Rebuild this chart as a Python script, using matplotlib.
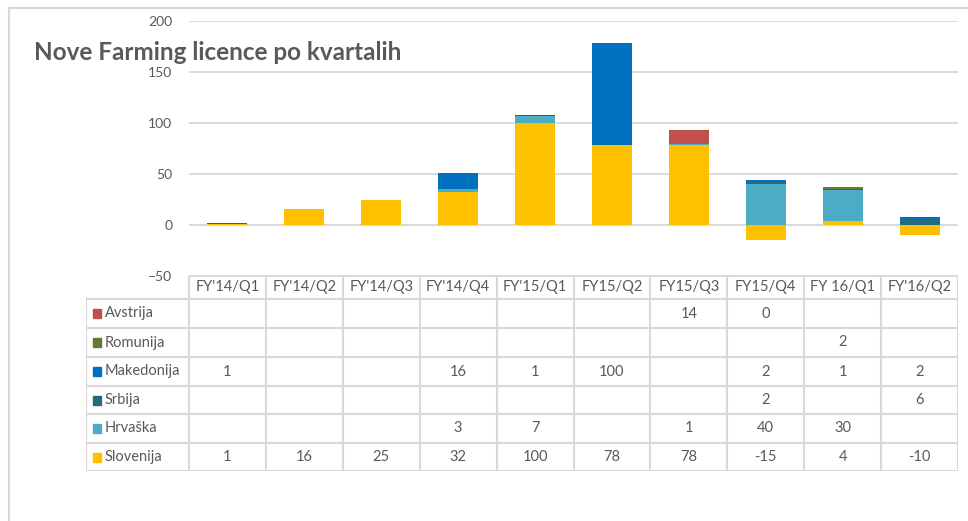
import numpy as np
import matplotlib
matplotlib.use("Agg")
from matplotlib import pyplot as plt
from matplotlib.patches import Rectangle

plt.rcParams['font.family'] = ['Lato', 'DejaVu Sans']

quarters = ["FY'14/Q1", "FY'14/Q2", "FY'14/Q3", "FY'14/Q4", "FY'15/Q1",
            "FY15/Q2", "FY15/Q3", "FY15/Q4", "FY 16/Q1", "FY'16/Q2"]
nan = np.nan
# table order (top to bottom)
countries = ["Avstrija", "Romunija", "Makedonija", "Srbija", "Hrvaška", "Slovenija"]
avstrija   = [nan, nan, nan, nan, nan, nan, 14, 0, nan, nan]
romunija   = [nan, nan, nan, nan, nan, nan, nan, nan, 2, nan]
makedonija = [1, nan, nan, 16, 1, 100, nan, 2, 1, 2]
srbija     = [nan, nan, nan, nan, nan, nan, nan, 2, nan, 6]
hrvaska    = [nan, nan, nan, 3, 7, nan, 1, 40, 30, nan]
slovenija  = [1, 16, 25, 32, 100, 78, 78, -15, 4, -10]
series = [avstrija, romunija, makedonija, srbija, hrvaska, slovenija]
colors = ["#C0504D", "#637A2E", "#0070C0", "#266A7E", "#4BACC6", "#FFC000"]

W, H = 968, 521
fig = plt.figure(figsize=(W / 100, H / 100), dpi=100)
txt = "#595959"
grid = "#D9D9D9"

def fx(px):
    return px / W

def fy(py):
    return 1 - py / H

# outer chart border (top and left visible)
fig.add_artist(plt.Line2D([fx(9), fx(9)], [fy(8), 0], color=grid, lw=1.5))
fig.add_artist(plt.Line2D([fx(9), 1], [fy(8), fy(8)], color=grid, lw=1.5))

# bar axes
ax_l, ax_r, ax_t, ax_b = 189, 958, 21, 276
ax = fig.add_axes([fx(ax_l), fy(ax_b), (ax_r - ax_l) / W, (ax_b - ax_t) / H])
x = np.arange(len(quarters))
pos_bottom = np.zeros(len(x))
neg_bottom = np.zeros(len(x))
for vals, c in zip(series[::-1], colors[::-1]):
    v = np.array(vals, dtype=float)
    keep = ~np.isnan(v) & (v != 0)
    v = np.nan_to_num(v)
    b = np.where(v >= 0, pos_bottom, neg_bottom)
    ax.bar(x[keep], v[keep], 0.52, bottom=b[keep], color=c, zorder=3)
    pos_bottom = pos_bottom + np.where(v > 0, v, 0)
    neg_bottom = neg_bottom + np.where(v < 0, v, 0)

ax.set_xlim(-0.5, len(x) - 0.5)
ax.set_ylim(-50, 200)
ax.set_yticks(np.arange(-50, 201, 50))
ax.set_xticks([])
ax.tick_params(axis='y', length=0, pad=12, labelsize=10, labelcolor=txt)
ax.yaxis.grid(True, color=grid, lw=1.4, zorder=0)
for s in ax.spines.values():
    s.set_visible(False)

fig.text(fx(34), fy(53), "Nove Farming licence po kvartalih", fontsize=17.5,
         fontweight='bold', color=txt, va='center', ha='left')

# data table
tab_l = 86
row_y = [276, 299, 328, 357, 386, 414, 443, 471]
tx = fig.add_axes([fx(tab_l), fy(row_y[-1]), (ax_r - tab_l) / W,
                   (row_y[-1] - row_y[0]) / H])
lab_w = (ax_l - tab_l) / ((ax_r - ax_l) / len(x))
tx.set_xlim(-0.5 - lab_w, len(x) - 0.5)
tx.set_ylim(row_y[-1], row_y[0])
tx.axis('off')
lc = dict(color=grid, lw=1.5, solid_capstyle='projecting')
# horizontal lines
tx.plot([-0.5, len(x) - 0.5], [row_y[0]] * 2, **lc)
for y in row_y[1:]:
    tx.plot([-0.5 - lab_w, len(x) - 0.5], [y, y], **lc)
# vertical lines
tx.plot([-0.5 - lab_w] * 2, [row_y[1], row_y[-1]], **lc)
for i in range(len(x) + 1):
    tx.plot([i - 0.5] * 2, [row_y[0], row_y[-1]], **lc)
fs = 10.5
# header
for i, q in enumerate(quarters):
    tx.text(i, (row_y[0] + row_y[1]) / 2, q, ha='center', va='center',
            fontsize=fs, color=txt)
# rows
for r, (name, vals, c) in enumerate(zip(countries, series, colors)):
    yc = (row_y[r + 1] + row_y[r + 2]) / 2
    tx.add_patch(Rectangle((-0.5 - lab_w + 0.09, yc - 4.5), 0.11, 9,
                           color=c, clip_on=False))
    tx.text(-0.5 - lab_w + 0.24, yc, name, ha='left', va='center',
            fontsize=fs, color=txt)
    for i, v in enumerate(vals):
        if not np.isnan(v):
            tx.text(i, yc, f"{v:g}", ha='center', va='center',
                    fontsize=fs, color=txt)

fig.savefig("out.png", dpi=100)
